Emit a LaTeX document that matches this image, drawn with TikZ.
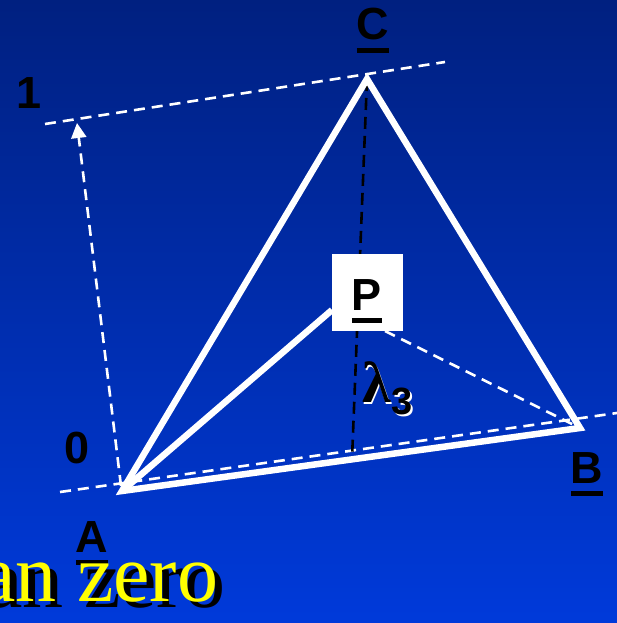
\documentclass[tikz,border=0pt]{standalone}
\usepackage{fontspec}
\setmainfont{Liberation Sans}
\newfontfamily\serifface{Liberation Serif}
\usetikzlibrary{arrows.meta}
\newcommand\barunder[1]{\setbox0\hbox{#1}\rlap{\rule[-13pt]{\wd0}{5pt}}\box0}
\tikzset{
  guide/.style={white, line width=2.6pt, dash pattern=on 11pt off 7pt},
  heightline/.style={black, line width=2.6pt, dash pattern=on 12pt off 7pt},
  edge/.style={white, line width=6.5pt, line join=miter},
  lbl/.style={inner sep=0pt, anchor=base, font=\fontsize{45}{50}\selectfont\bfseries, text=black},
}
\begin{document}
\begin{tikzpicture}[x=1pt,y=-1pt]
\useasboundingbox (0,0) rectangle (617,623);
\begin{scope}
\clip (0,0) rectangle (617,623);
\shade[top color={rgb,255:red,0;green,32;blue,128}, bottom color={rgb,255:red,0;green,58;blue,218}] (0,0) rectangle (617,623);

% vertices
\coordinate (A) at (122,491);
\coordinate (B) at (580,428);
\coordinate (C) at (367,79);
\coordinate (T1) at (45,124);
\coordinate (T2) at (445,62);
\coordinate (L1) at (60,492);
\coordinate (L2) at (617,413);
\coordinate (ArS) at (121,486);
\coordinate (ArE) at (77,123);
\coordinate (H) at (352,459);
\coordinate (Pl) at (332,310);
\coordinate (Pr) at (385,331);

% guide lines
\draw[guide] (T1) -- (T2);
\draw[guide] (L1) -- (L2);
\draw[guide, -{Triangle[width=15pt,length=15pt]}] (ArS) -- (ArE);

% height line
\draw[heightline] (C) -- (H);

% triangle
\draw[edge] (A) -- (B) -- (C) -- cycle;
\draw[edge] (A) -- (Pl);
\draw[guide] (Pr) -- (B);

% P box
\node[fill=white, minimum width=71pt, minimum height=77pt, inner sep=0pt] (P) at (367.5,292.5) {};
\node[lbl] (Plbl) at (367,310) {\barunder{P}};

% labels
\node[lbl] (one) at (29,109) {1};
\node[lbl] (zero) at (77,463) {0};
\node[lbl] (Clbl) at (373,40) {\barunder{C}};
\node[lbl] (Blbl) at (587,483) {\barunder{B}};
\node[lbl] (Albl) at (92,552) {\barunder{A}};

% lambda 3
\node[inner sep=0pt, anchor=base west, text=white, font=\serifface\bfseries\fontsize{58}{60}\selectfont] (lamg) at (363.5,404) {λ};
\node[inner sep=0pt, anchor=base west, text=black, font=\serifface\bfseries\fontsize{58}{60}\selectfont] (lam) at (362,402.5) {λ};
\node[inner sep=0pt, anchor=base west, text=white, font=\fontsize{38}{44}\selectfont\bfseries] (subg) at (393,416) {3};
\node[inner sep=0pt, anchor=base west, text=black, font=\fontsize{38}{44}\selectfont\bfseries] (sub) at (391.5,414.5) {3};

% bottom text
\node[inner sep=0pt, anchor=base west, text=black, font=\serifface\fontsize{82}{88}\selectfont] (shadowtxt) at (-14,607) {an zero};
\node[inner sep=0pt, anchor=base west, text={rgb,255:red,255;green,255;blue,0}, font=\serifface\fontsize{82}{88}\selectfont] (txt) at (-21,601) {an zero};
\end{scope}
\end{tikzpicture}
\end{document}
